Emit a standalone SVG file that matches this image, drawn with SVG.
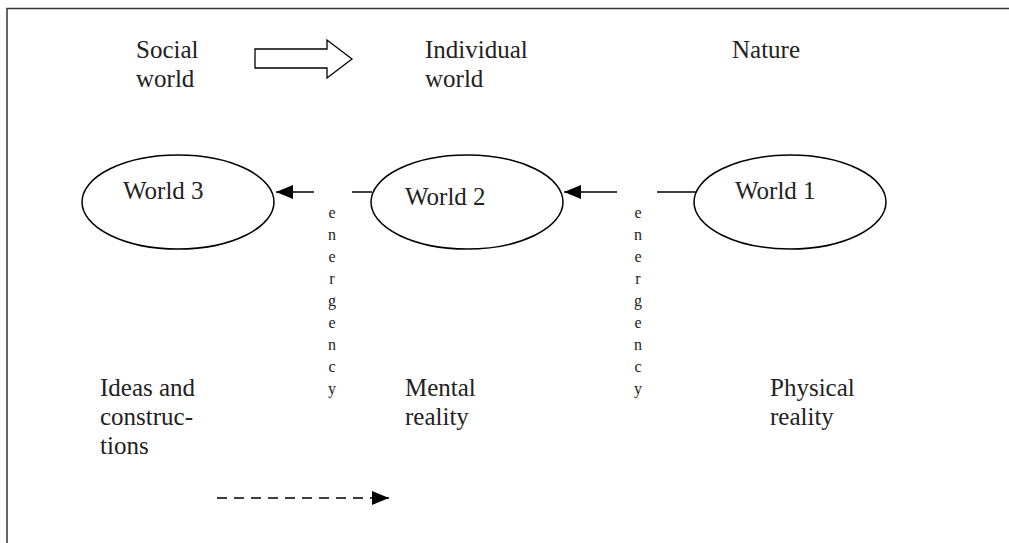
<svg xmlns="http://www.w3.org/2000/svg" width="1009" height="543" viewBox="0 0 1009 543">
<style>
.t{font-family:"Liberation Serif","Times New Roman",serif;font-size:25px;fill:#222}
.e{font-family:"Liberation Serif","Times New Roman",serif;font-size:16px;fill:#222;text-anchor:middle}
.node{fill:#fff;stroke:#000;stroke-width:1.5}
.ln{stroke:#000;stroke-width:1.5;fill:none}
</style>
<defs>
<marker id="ah" viewBox="0 0 17 14" refX="17" refY="7" markerWidth="17" markerHeight="14" markerUnits="userSpaceOnUse" orient="auto">
<path d="M0,0 L17,7 L0,14 Z" fill="#000"/>
</marker>
</defs>
<rect x="7" y="8.5" width="1010" height="540" fill="#fff" stroke="#333" stroke-width="1.5"/>
<g id="labels">
<text class="t" x="136" y="58">Social</text>
<text class="t" x="136" y="87">world</text>
<text class="t" x="425" y="58">Individual</text>
<text class="t" x="425" y="87">world</text>
<text class="t" x="732" y="58">Nature</text>
<text class="t" x="100" y="396">Ideas and</text>
<text class="t" x="100" y="425">construc-</text>
<text class="t" x="100" y="454">tions</text>
<text class="t" x="405" y="396">Mental</text>
<text class="t" x="405" y="425">reality</text>
<text class="t" x="770" y="396">Physical</text>
<text class="t" x="770" y="425">reality</text>
</g>
<g id="block-arrow">
<polygon points="255,49 327,49 327,40 352,59 327,78 327,68 255,68" fill="#fff" stroke="#000" stroke-width="1.3"/>
</g>
<g id="world3">
<ellipse class="node" cx="178" cy="202" rx="96" ry="47"/>
<text class="t" x="123" y="199">World 3</text>
</g>
<g id="world2">
<ellipse class="node" cx="467" cy="202" rx="96" ry="47"/>
<text class="t" x="405" y="205">World 2</text>
</g>
<g id="world1">
<ellipse class="node" cx="790" cy="202" rx="96" ry="47"/>
<text class="t" x="735" y="199">World 1</text>
</g>
<g id="connectors">
<line class="ln" x1="314" y1="192" x2="276" y2="192" marker-end="url(#ah)"/>
<line class="ln" x1="352" y1="192" x2="372" y2="192"/>
<line class="ln" x1="617" y1="192" x2="564" y2="192" marker-end="url(#ah)"/>
<line class="ln" x1="657" y1="192" x2="696" y2="192"/>
<line class="ln" x1="217" y1="498" x2="389" y2="498" stroke-dasharray="10,7" marker-end="url(#ah)"/>
</g>
<g id="emergency-left">
<text class="e" x="332" y="218">e</text>
<text class="e" x="332" y="240">n</text>
<text class="e" x="332" y="262">e</text>
<text class="e" x="332" y="284">r</text>
<text class="e" x="332" y="306">g</text>
<text class="e" x="332" y="328">e</text>
<text class="e" x="332" y="350">n</text>
<text class="e" x="332" y="372">c</text>
<text class="e" x="332" y="394">y</text>
</g>
<g id="emergency-right">
<text class="e" x="638" y="218">e</text>
<text class="e" x="638" y="240">n</text>
<text class="e" x="638" y="262">e</text>
<text class="e" x="638" y="284">r</text>
<text class="e" x="638" y="306">g</text>
<text class="e" x="638" y="328">e</text>
<text class="e" x="638" y="350">n</text>
<text class="e" x="638" y="372">c</text>
<text class="e" x="638" y="394">y</text>
</g>
</svg>
